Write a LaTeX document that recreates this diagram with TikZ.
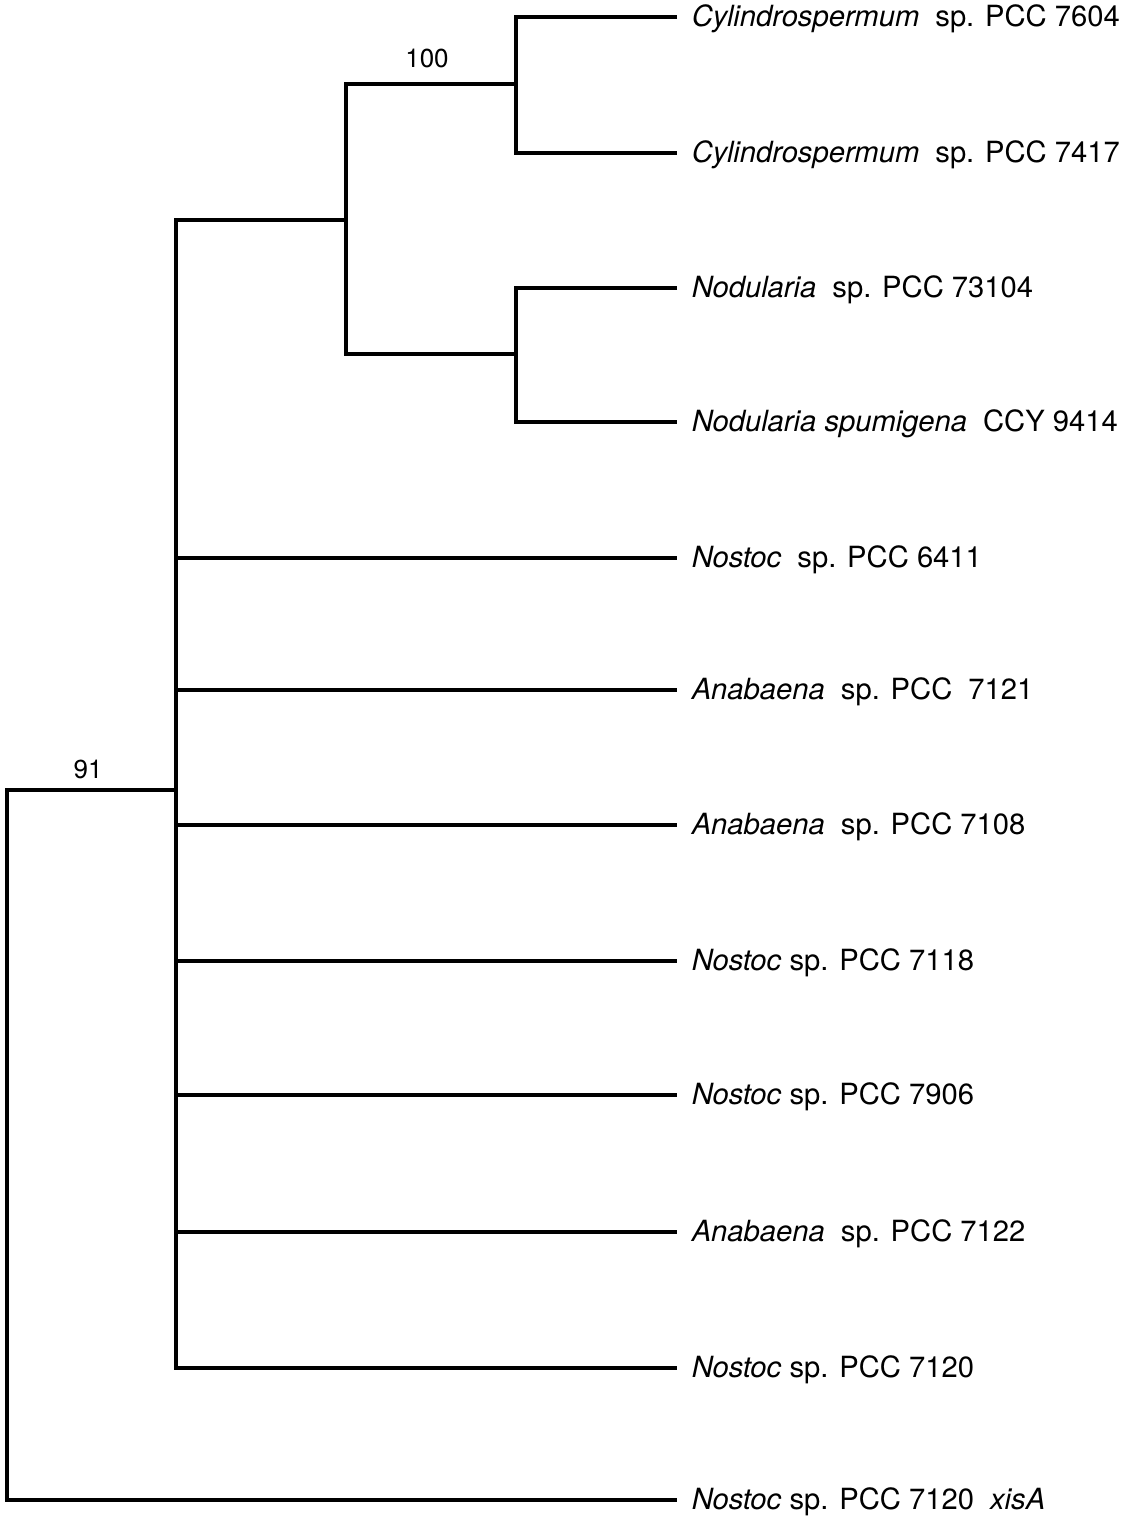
\documentclass[tikz,border=0pt]{standalone}
\usepackage{fontspec}
\setmainfont{TeX Gyre Heros}
\tikzset{every picture/.style={line width=1.75pt}}
\tikzset{
  taxon/.style={anchor=base west,inner sep=0pt,xshift=6.5pt,yshift=-4.5pt,font=\fontsize{14.6}{17}\selectfont},
  support/.style={anchor=base,inner sep=0pt,font=\fontsize{13}{15}\selectfont}
}
\newcommand{\wgap}{\hspace{0.55em}}

\begin{document}
\begin{tikzpicture}[x=0.5pt,y=0.5pt,yscale=-1,xscale=1]
\useasboundingbox (0,0) rectangle (1124,1526);

%Internal nodes
\coordinate (rt) at (7,790);
\coordinate (cA) at (176,790);
\coordinate (cB) at (346,220);
\coordinate (cC) at (516,84);
\coordinate (cD) at (516,354);

%Leaf ends
\coordinate (t7604) at (677,17);
\coordinate (t7417) at (677,153);
\coordinate (t73104) at (677,288);
\coordinate (t9414) at (677,422);
\coordinate (t6411) at (677,558);
\coordinate (t7121) at (677,690);
\coordinate (t7108) at (677,825);
\coordinate (t7118) at (677,961);
\coordinate (t7906) at (677,1095);
\coordinate (t7122) at (677,1232);
\coordinate (t7120) at (677,1368);
\coordinate (txis) at (677,1500);

%Branches
\draw (t7604) -| (cC) |- (t7417);
\draw (t73104) -| (cD) |- (t9414);
\draw (cC) -| (cB) |- (cD);
\draw (cB) -| (cA) |- (t7120);
\foreach \t in {t6411,t7121,t7108,t7118,t7906,t7122}
  \draw (cA |- \t) -- (\t);
\draw (cA) -| (rt) |- (txis);

%Support values
\node [support] (s100) at (427,67) {100};
\node [support] (s91) at (88,778) {91};

% Text Node
\node [taxon] (l7604) at (t7604) {\textit{Cylindrospermum}\wgap sp. PCC 7604};
\node [taxon] (l7417) at (t7417) {\textit{Cylindrospermum}\wgap sp. PCC 7417};
\node [taxon] (l73104) at (t73104) {\textit{Nodularia}\wgap sp. PCC 73104};
\node [taxon] (l9414) at (t9414) {\textit{Nodularia spumigena}\wgap CCY 9414};
\node [taxon] (l6411) at (t6411) {\textit{Nostoc}\wgap sp. PCC 6411};
\node [taxon] (l7121) at (t7121) {\textit{Anabaena}\wgap sp. PCC\wgap 7121};
\node [taxon] (l7108) at (t7108) {\textit{Anabaena}\wgap sp. PCC 7108};
\node [taxon] (l7118) at (t7118) {\textit{Nostoc} sp. PCC 7118};
\node [taxon] (l7906) at (t7906) {\textit{Nostoc} sp. PCC 7906};
\node [taxon] (l7122) at (t7122) {\textit{Anabaena}\wgap sp. PCC 7122};
\node [taxon] (l7120) at (t7120) {\textit{Nostoc} sp. PCC 7120};
\node [taxon] (lxis) at (txis) {\textit{Nostoc} sp. PCC 7120\wgap\textit{xisA}};
\end{tikzpicture}
\end{document}
